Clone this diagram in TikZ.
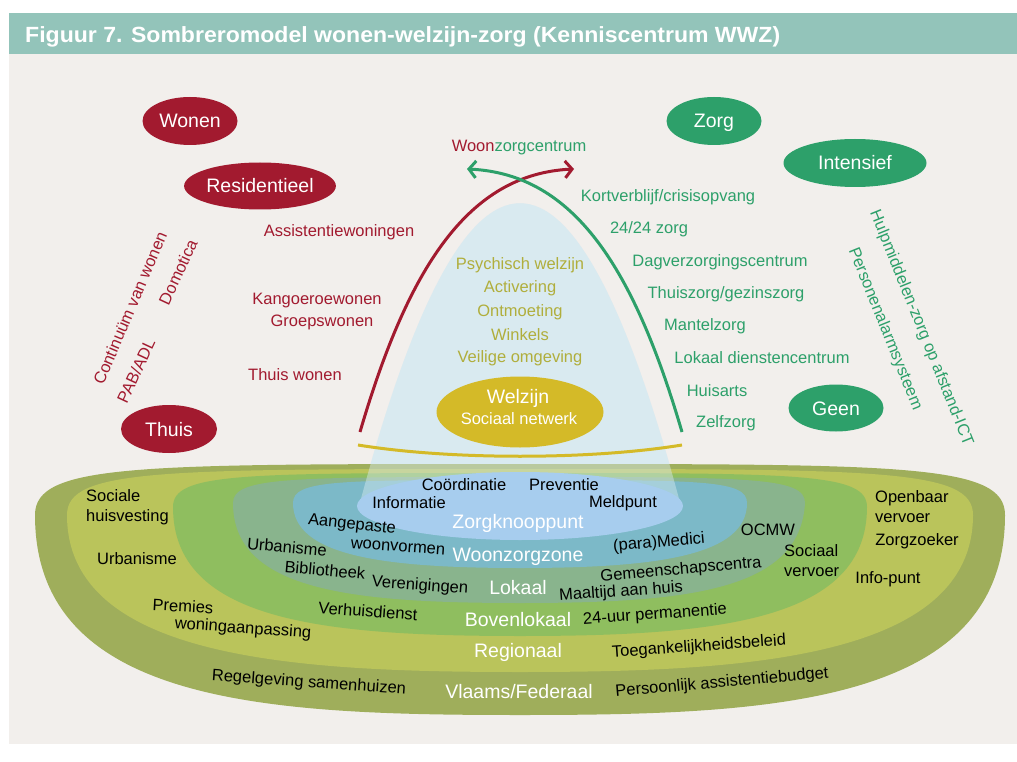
\documentclass[tikz,border=0pt]{standalone}
\usepackage{fontspec}
\setmainfont{Liberation Sans}
\usetikzlibrary{shapes.geometric,arrows.meta}
\definecolor{hdr}{HTML}{93C4BA}
\definecolor{bgc}{HTML}{F2EFEC}
\definecolor{wred}{HTML}{A21A2F}
\definecolor{wgreen}{HTML}{2DA06A}
\definecolor{wyel}{HTML}{D4BA28}
\definecolor{btext}{HTML}{B0AE3C}
\definecolor{bell}{HTML}{D9EAF0}
\definecolor{lA}{HTML}{9FAE5B}
\definecolor{lB}{HTML}{BAC45B}
\definecolor{lC}{HTML}{8FBE5F}
\definecolor{lD}{HTML}{89B48D}
\definecolor{lE}{HTML}{7CB9C8}
\definecolor{lF}{HTML}{A7CDEE}
\begin{document}
\begin{tikzpicture}[x=1pt,y=-1pt,
  ovalR/.style={ellipse, fill=wred, text=white, inner sep=0pt, text height=14pt, text depth=0pt, font=\fontsize{19.5}{20}\selectfont},
  ovalG/.style={ellipse, fill=wgreen, text=white, inner sep=0pt, text height=14pt, text depth=0pt, font=\fontsize{19.5}{20}\selectfont},
  lblR/.style={text=wred, inner sep=0pt, font=\fontsize{16.5}{18}\selectfont},
  lblG/.style={text=wgreen, inner sep=0pt, font=\fontsize{16.5}{18}\selectfont},
  lblY/.style={text=btext, inner sep=0pt, font=\fontsize{16.5}{18}\selectfont},
  lblK/.style={text=black, inner sep=0pt, font=\fontsize{16.5}{20}\selectfont},
  lyr/.style={text=white, inner sep=0pt, font=\fontsize{19.5}{20}\selectfont},
  arc/.style={line width=3pt, -{Straight Barb[length=7pt,width=17pt]}}
]
\useasboundingbox (0,0) rectangle (1017,762);
\fill[white] (0,0) rectangle (1017,762);
\fill[bgc] (9,54) rectangle (1017,744);
\fill[hdr] (9,13) rectangle (1017,54);
\node[anchor=base west, inner sep=0pt, text=white, font=\fontsize{22}{24}\selectfont\bfseries] (title) at (25,43)
  {\resizebox{755pt}{\height}{Figuur 7. Sombreromodel wonen-welzijn-zorg (Kenniscentrum WWZ)}};

% bell (opaque)
\fill[bell] (358,510) .. controls (466,101) and (574,101) .. (682,510) -- cycle;

% sombrero layers
\fill[lA] (35,515) .. controls (35,464) and (135,464) .. (520,464) .. controls (905,464) and (1005,464) .. (1005,515)
  .. controls (1005,705) and (770,715) .. (520,715) .. controls (270,715) and (35,705) .. (35,515) -- cycle;
\fill[lB] (67,515) .. controls (67,469) and (160,469) .. (520,469) .. controls (880,469) and (973,469) .. (973,515)
  .. controls (973,660) and (740,672) .. (520,672) .. controls (300,672) and (67,660) .. (67,515) -- cycle;
\fill[lC] (173,507) .. controls (173,473) and (240,473) .. (520,473) .. controls (800,473) and (867,473) .. (867,507)
  .. controls (867,620) and (720,636) .. (520,636) .. controls (320,636) and (173,620) .. (173,507) -- cycle;
\fill[lD] (233,503) .. controls (233,477) and (290,477) .. (520,477) .. controls (750,477) and (805,477) .. (805,503)
  .. controls (800,590) and (690,603) .. (520,603) .. controls (350,603) and (233,590) .. (233,503) -- cycle;
\fill[lE] (293,503) .. controls (293,480) and (338,480) .. (520,480) .. controls (702,480) and (747,480) .. (747,503)
  .. controls (747,555) and (660,568) .. (520,568) .. controls (380,568) and (293,555) .. (293,503) -- cycle;
% bell overlay
\fill[bell, fill opacity=0.45] (358,510) .. controls (466,101) and (574,101) .. (682,510) -- cycle;
\fill[lF] (520,506) ellipse [x radius=163pt, y radius=34pt];

% yellow line
\coordinate (yl) at (358,445);
\coordinate (yr) at (682,445);
\draw[wyel, line width=3pt] (yl) .. controls (450,460) and (590,460) .. (yr);

% arcs
\coordinate (rs) at (360,432);
\coordinate (re) at (574,169);
\coordinate (gs) at (682,432);
\coordinate (ge) at (467,169);
\draw[arc, wred] (rs) .. controls (408,268) and (468,174) .. (re);
\draw[arc, wgreen] (gs) .. controls (634,268) and (574,174) .. (ge);

% ovals
\node[ovalR, minimum width=95pt, minimum height=48pt] (wonen) at (190,121) {Wonen};
\node[ovalR, minimum width=143pt, minimum height=47pt] (resid) at (260,186) {Residentieel};
\node[ovalR, minimum width=96pt, minimum height=48pt] (thuis) at (169,429) {Thuis};
\node[ovalG, minimum width=95pt, minimum height=48pt] (zorg) at (714,121) {Zorg};
\node[ovalG, minimum width=143pt, minimum height=48pt] (intens) at (855,163) {Intensief};
\node[ovalG, minimum width=95pt, minimum height=47pt] (geen) at (836,408) {Geen};
\node[ellipse, fill=wyel, inner sep=0pt, minimum width=167pt, minimum height=71pt] (welz) at (520,412) {};
\node[text=white, inner sep=0pt, font=\fontsize{19.5}{20}\selectfont] (welzt) at (518,398) {Welzijn};
\node[text=white, inner sep=0pt, font=\fontsize{16.5}{18}\selectfont] (socn) at (519,419) {Sociaal netwerk};

% red labels
\node[lblR] (assist) at (339,232) {Assistentiewoningen};
\node[lblR] (kang) at (317,301) {Kangoeroewonen};
\node[lblR] (groep) at (322,322) {Groepswonen};
\node[lblR] (thw) at (295,375) {Thuis wonen};
\node[lblR, rotate=67] (cont) at (130,308) {Continuüm van wonen};
\node[lblR, rotate=65] (pab) at (136,371) {PAB/ADL};
\node[lblR, rotate=65] (domo) at (178,272) {Domotica};
\node[inner sep=0pt, font=\fontsize{16.5}{18}\selectfont] (wzc) at (519,148) {\textcolor{wred}{Woon}\textcolor{wgreen}{zorgcentrum}};

% green labels
\node[lblG] (kort) at (668,197) {Kortverblijf/crisisopvang};
\node[lblG] (z24) at (649,229) {24/24 zorg};
\node[lblG] (dag) at (720,262) {Dagverzorgingscentrum};
\node[lblG] (thz) at (726,294) {Thuiszorg/gezinszorg};
\node[lblG] (mant) at (705,326) {Mantelzorg};
\node[lblG] (ldc) at (762,358) {Lokaal dienstencentrum};
\node[lblG] (huis) at (717,391) {Huisarts};
\node[lblG] (zelf) at (726,423) {Zelfzorg};
\node[lblG, rotate=-68] (hulp) at (921,328) {Hulpmiddelen-zorg op afstand-ICT};
\node[lblG, rotate=-68] (pers) at (885,329) {Personenalarmsysteem};

% bell labels
\node[lblY] (psy) at (520,265) {Psychisch welzijn};
\node[lblY] (act) at (520,288) {Activering};
\node[lblY] (ont) at (520,312) {Ontmoeting};
\node[lblY] (wink) at (520,335) {Winkels};
\node[lblY] (veil) at (520,358) {Veilige omgeving};

% layer names
\node[lyr] (n1) at (518,523) {Zorgknooppunt};
\node[lyr] (n2) at (518,557) {Woonzorgzone};
\node[lyr] (n3) at (518,588) {Lokaal};
\node[lyr] (n4) at (518,620) {Bovenlokaal};
\node[lyr] (n5) at (518,652) {Regionaal};
\node[lyr] (n6) at (519,692) {Vlaams/Federaal};

% black labels
\node[lblK, align=left, anchor=west] (soc) at (86,507) {Sociale\\huisvesting};
\node[lblK] (urb1) at (137,559) {Urbanisme};
\node[lblK, rotate=-3] (prem) at (183,606) {Premies};
\node[lblK, rotate=-4] (wona) at (243,629) {woningaanpassing};
\node[lblK, rotate=-4] (regel) at (309,683) {Regelgeving samenhuizen};
\node[lblK, rotate=-5] (urb2) at (287,547) {Urbanisme};
\node[lblK, rotate=-6] (aang) at (352,525) {Aangepaste};
\node[lblK, rotate=-4] (woonv) at (398,547) {woonvormen};
\node[lblK, rotate=-5] (bib) at (325,570) {Bibliotheek};
\node[lblK, rotate=-4] (veren) at (420,586) {Verenigingen};
\node[lblK, rotate=-4] (verh) at (368,611) {Verhuisdienst};
\node[lblK] (coord) at (464,485) {Coördinatie};
\node[lblK] (info) at (409,503) {Informatie};
\node[lblK] (prev) at (564,485) {Preventie};
\node[lblK] (meld) at (623,503) {Meldpunt};
\node[lblK] (ocmw) at (768,530) {OCMW};
\node[lblK, rotate=5] (medi) at (659,543) {(para)Medici};
\node[lblK, rotate=5] (gem) at (681,570) {Gemeenschapscentra};
\node[lblK, rotate=4] (maal) at (621,592) {Maaltijd aan huis};
\node[lblK, rotate=4] (uur) at (655,615) {24-uur permanentie};
\node[lblK, rotate=4] (toeg) at (699,647) {Toegankelijkheidsbeleid};
\node[lblK, rotate=5] (pab2) at (722,683) {Persoonlijk assistentiebudget};
\node[lblK, align=left, anchor=west] (sv) at (784,561) {Sociaal\\vervoer};
\node[lblK, align=left, anchor=west] (ov) at (875,507) {Openbaar\\vervoer};
\node[lblK] (zz) at (917,541) {Zorgzoeker};
\node[lblK] (ip) at (888,579) {Info-punt};
\end{tikzpicture}
\end{document}
